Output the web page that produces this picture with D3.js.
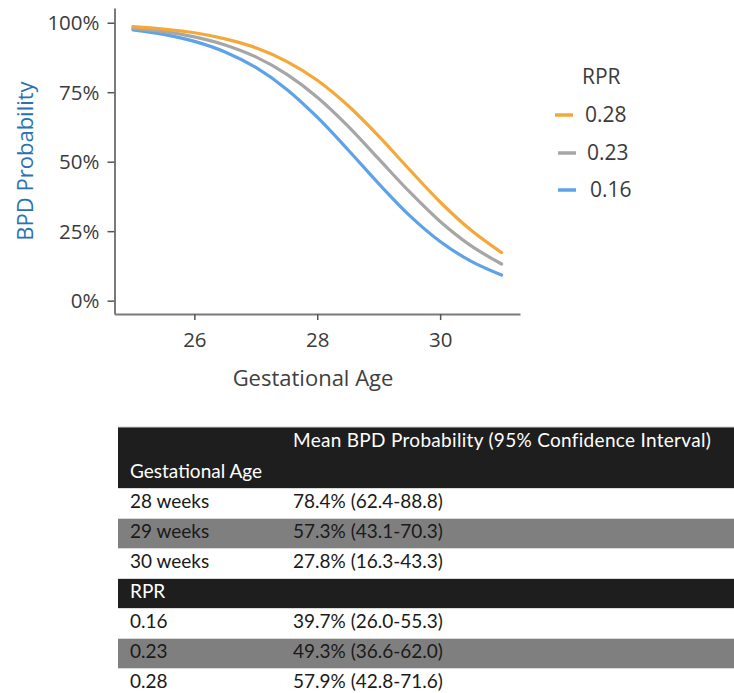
<!DOCTYPE html>
<html>
<head>
<meta charset="utf-8">
<script src="https://cdn.jsdelivr.net/npm/d3@7"></script>
<style>
  html, body { margin: 0; padding: 0; background: #fff; }
  svg { display: block; }
</style>
</head>
<body>
<svg id="chart" width="734" height="693"></svg>
<script>
// ---------------- Data ----------------
const gestationalAge = [25, 25.5, 26, 26.5, 27, 27.5, 28, 28.5, 29, 29.5, 30, 30.5, 31];
const rpr028 = [98.6, 97.7, 96.4, 94.2, 91.0, 86.1, 79.3, 70.2, 59.2, 47.2, 35.5, 25.4, 17.3];
const rpr023 = [98.0, 96.8, 94.9, 92.0, 87.7, 81.5, 73.2, 62.8, 51.0, 39.2, 28.5, 19.8, 13.2];
const rpr016 = [97.4, 95.8, 93.3, 89.5, 83.9, 76.1, 66.0, 54.3, 42.1, 30.7, 21.3, 14.2, 9.2];
const seriesNames = ["0.28", "0.23", "0.16"];
const xTicks = [26, 28, 30];
const yTicks = [0, 25, 50, 75, 100];

const tableHeader = ["Gestational Age", "Mean BPD Probability (95% Confidence Interval)"];
const gaLabels = ["28 weeks", "29 weeks", "30 weeks"];
const gaValues = ["78.4% (62.4-88.8)", "57.3% (43.1-70.3)", "27.8% (16.3-43.3)"];
const rprGroup = "RPR";
const rprLabels = ["0.16", "0.23", "0.28"];
const rprValues = ["39.7% (26.0-55.3)", "49.3% (36.6-62.0)", "57.9% (42.8-71.6)"];

// ---------------- Chart ----------------
const svg = d3.select("#chart");
const colors = {"0.28": "#f5a83a", "0.23": "#a6a6a6", "0.16": "#5ea2e8"};
const seriesData = {"0.28": rpr028, "0.23": rpr023, "0.16": rpr016};

const x = d3.scaleLinear().domain([24.70, 31.30]).range([114.5, 520]);
const y = d3.scaleLinear().domain([-4.8, 105.3]).range([314, 8]);

const chartFont = "'Open Sans', 'Noto Sans', sans-serif";
const axisColor = "#7a7a7a";
const textColor = "#3b3b3b";

// y axis
const yAxis = svg.append("g").attr("transform", `translate(${x(24.70)},0)`)
  .call(d3.axisLeft(y).tickValues(yTicks).tickFormat(d => d + "%").tickSize(7).tickSizeOuter(0));
yAxis.select(".domain").attr("stroke", axisColor).attr("stroke-width", 2);
yAxis.selectAll(".tick line").attr("stroke", "#555").attr("stroke-width", 1.5);
yAxis.selectAll(".tick text").attr("font-family", chartFont).attr("font-size", 20.5)
  .attr("fill", textColor).attr("x", -15).attr("dy", "0.35em");

// x axis
const xAxis = svg.append("g").attr("transform", `translate(0,${y(-4.8)})`)
  .call(d3.axisBottom(x).tickValues(xTicks).tickFormat(d3.format("d")).tickSize(6).tickSizeOuter(0));
xAxis.select(".domain").attr("stroke", axisColor).attr("stroke-width", 2);
xAxis.selectAll(".tick line").attr("stroke", "#555").attr("stroke-width", 1.5);
xAxis.selectAll(".tick text").attr("font-family", chartFont).attr("font-size", 20.5)
  .attr("fill", textColor).attr("y", 18);

// axis titles
svg.append("text").attr("x", 313).attr("y", 386).attr("text-anchor", "middle")
  .attr("font-family", chartFont).attr("font-size", 22).attr("fill", "#404040")
  .text("Gestational Age");
svg.append("text").attr("transform", "translate(33,161) rotate(-90)").attr("text-anchor", "middle")
  .attr("font-family", chartFont).attr("font-size", 22).attr("fill", "#2b72b3")
  .text("BPD Probability");

// lines
const line = d3.line().curve(d3.curveMonotoneX)
  .x((d, i) => x(gestationalAge[i])).y(d => y(d));
svg.append("g").selectAll("path").data(["0.16", "0.23", "0.28"]).join("path")
  .attr("d", k => line(seriesData[k]))
  .attr("fill", "none").attr("stroke", k => colors[k]).attr("stroke-width", 3.2)
  .attr("stroke-linecap", "round");

// legend
const legend = svg.append("g");
legend.append("text").attr("x", 582).attr("y", 84).attr("font-family", chartFont)
  .attr("font-size", 21).attr("fill", textColor).text("RPR");
const legendY = [115, 153, 190];
const legendX = [555, 558, 558];
const legendTx = [585, 587, 590];
seriesNames.forEach((k, i) => {
  legend.append("line").attr("x1", legendX[i]).attr("x2", legendX[i] + 18)
    .attr("y1", legendY[i]).attr("y2", legendY[i])
    .attr("stroke", colors[k]).attr("stroke-width", 3.5);
  legend.append("text").attr("x", legendTx[i]).attr("y", legendY[i]).attr("dy", "0.35em")
    .attr("font-family", chartFont).attr("font-size", 21).attr("fill", textColor).text(k);
});

// ---------------- Table ----------------
const tableFont = "Lato, 'Carlito', sans-serif";
const tFs = 19;
const tLeft = 118, tRight = 734, col2 = 293, col1 = 130;
const tbl = svg.append("g");
// header
tbl.append("rect").attr("x", tLeft).attr("y", 427).attr("width", tRight - tLeft).attr("height", 61)
  .attr("fill", "#1e1e1e");
tbl.append("line").attr("x1", tLeft).attr("x2", tRight).attr("y1", 427).attr("y2", 427)
  .attr("stroke", "#cfcfcf").attr("stroke-width", 1);
tbl.append("text").attr("x", col1).attr("y", 478).attr("font-family", tableFont).attr("font-size", tFs)
  .attr("fill", "#fff").text(tableHeader[0]);
tbl.append("text").attr("x", col2).attr("y", 447).attr("font-family", tableFont).attr("font-size", tFs)
  .attr("letter-spacing", 0.3).attr("fill", "#fff").text(tableHeader[1]);

const rows = [];
gaLabels.forEach((l, i) => rows.push({label: l, value: gaValues[i], type: i % 2 ? "gray" : "white"}));
rows.push({label: rprGroup, value: "", type: "black"});
rprLabels.forEach((l, i) => rows.push({label: l, value: rprValues[i], type: i % 2 ? "gray" : "white"}));

const fills = {white: "#ffffff", gray: "#7f7f7f", black: "#1e1e1e"};
const rowH = 30, rowTop = 488;
rows.forEach((r, i) => {
  const top = rowTop + i * rowH;
  tbl.append("rect").attr("x", tLeft).attr("y", top).attr("width", tRight - tLeft).attr("height", rowH)
    .attr("fill", fills[r.type]);
  tbl.append("line").attr("x1", tLeft).attr("x2", tRight).attr("y1", top + 0.5).attr("y2", top + 0.5)
    .attr("stroke", "#d9d9d9").attr("stroke-width", 1);
  const tc = r.type === "black" ? "#ffffff" : "#1a1a1a";
  tbl.append("text").attr("x", col1).attr("y", top + 20).attr("font-family", tableFont).attr("font-size", tFs)
    .attr("fill", tc).text(r.label);
  if (r.value) tbl.append("text").attr("x", col2).attr("y", top + 20).attr("font-family", tableFont)
    .attr("font-size", tFs).attr("fill", tc).text(r.value);
});
</script>
</body>
</html>
